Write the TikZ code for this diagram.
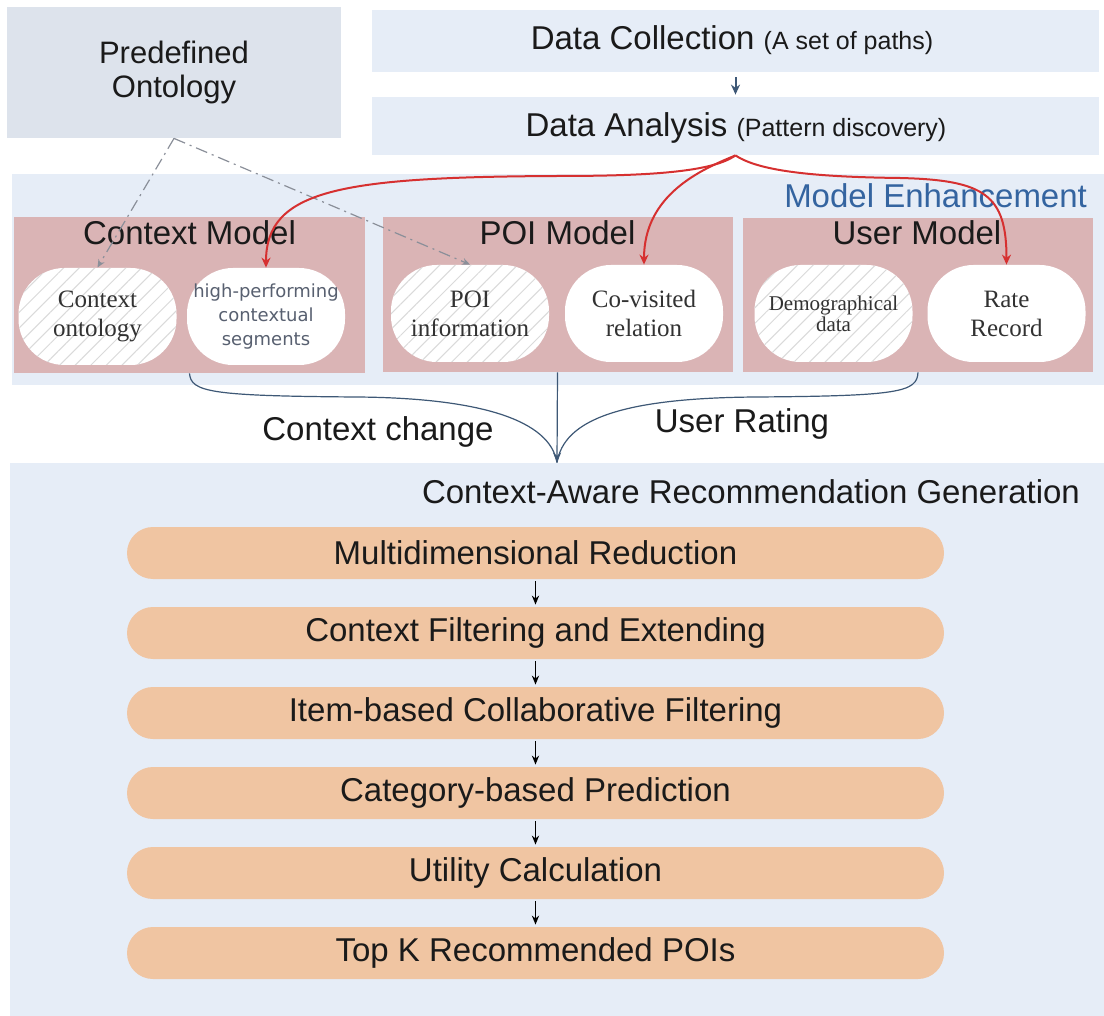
\documentclass[tikz,border=0pt]{standalone}
\usepackage{fontspec}
\setmainfont{Liberation Sans}
\newfontfamily\pillserif{Liberation Serif}
\newfontfamily\pillsans{DejaVu Sans}
\usetikzlibrary{arrows.meta,patterns.meta}
\definecolor{lightbg}{RGB}{230,237,247}
\definecolor{ontobg}{RGB}{221,227,236}
\definecolor{pinkbg}{RGB}{218,180,181}
\definecolor{orangebg}{RGB}{240,197,162}
\definecolor{hatchgray}{RGB}{218,218,218}
\definecolor{connblue}{RGB}{62,88,118}
\definecolor{redline}{RGB}{214,48,48}
\definecolor{enhblue}{RGB}{52,100,160}
\definecolor{dashgray}{RGB}{138,143,153}
\definecolor{txt}{RGB}{26,26,26}
\definecolor{pilltxt}{RGB}{50,50,50}
\definecolor{hptxt}{RGB}{88,96,112}
\begin{document}
\begin{tikzpicture}[x=0.5pt,y=-0.5pt,
  bigfont/.style={font=\fontsize{16.5}{20}\selectfont, text=txt},
  area/.style={rectangle, inner sep=0pt, draw=none},
  pill/.style={rectangle, rounded corners=23pt, minimum width=79pt, minimum height=48.5pt,
    inner sep=0pt, align=center, text=pilltxt, font=\pillserif\fontsize{12.5}{14.5}\selectfont},
  hatched/.style={pill, preaction={fill=white},
    pattern={Lines[angle=45,distance=5.5pt,line width=0.5pt]}, pattern color=hatchgray},
  blank/.style={pill, fill=white},
  stage/.style={rectangle, rounded corners=13pt, fill=orangebg, minimum width=408.5pt,
    minimum height=26pt, inner sep=0pt, font=\fontsize{16.5}{20}\selectfont, text=txt},
  stagearrow/.style={draw=black, line width=0.7pt, -{Stealth[length=4.5pt,width=3.6pt]}, shorten <=1pt, shorten >=1pt},
  redarr/.style={draw=redline, line width=1pt, -{Stealth[length=5pt,width=4.5pt]}},
  conn/.style={draw=connblue, line width=0.6pt},
  ontoline/.style={draw=dashgray, line width=0.6pt, dash pattern={on 6pt off 2.5pt on 1pt off 2.5pt},
    -{Stealth[length=4pt,width=3.5pt]}}
]
\useasboundingbox (0,0) rectangle (1104,1016);
\fill[white] (0,0) rectangle (1104,1016);

% top boxes
\node[area, fill=ontobg, minimum width=167pt, minimum height=65.5pt, align=center,
  font=\fontsize{15.5}{17}\selectfont, text=txt] (onto) at (174,72.5) {Predefined\\Ontology};
\node[area, fill=lightbg, minimum width=363.5pt, minimum height=31pt] (dc) at (735.5,41) {};
\node[area, fill=lightbg, minimum width=363.5pt, minimum height=29pt] (da) at (735.5,126) {};
\node[bigfont, anchor=base] (dct) at (732,50) {Data Collection {\fontsize{12.5}{14}\selectfont (A set of paths)}};
\node[bigfont, anchor=base] (dat) at (736,137) {Data Analysis {\fontsize{12.5}{14}\selectfont (Pattern discovery)}};
\draw[draw=connblue, line width=1pt, -{Stealth[length=5pt,width=4.5pt]}, shorten <=2.5pt, shorten >=1pt] (dc.south) -- (da.north);

% model enhancement area
\node[area, fill=lightbg, minimum width=546pt, minimum height=105.5pt] (me) at (558,279.5) {};
\node[anchor=base east, font=\fontsize{16.5}{20}\selectfont, text=enhblue] (met) at (1094,208) {Model Enhancement};
\node[area, fill=pinkbg, minimum width=175.5pt, minimum height=78pt] (cm) at (189.5,295) {};
\node[area, fill=pinkbg, minimum width=175pt, minimum height=77.5pt] (pm) at (557.5,294.5) {};
\node[area, fill=pinkbg, minimum width=175pt, minimum height=77pt] (um) at (918,295) {};
\node[bigfont, anchor=base] (cmt) at (189.5,245) {Context Model};
\node[bigfont, anchor=base] (pmt) at (557.5,245) {POI Model};
\node[bigfont, anchor=base] (umt) at (917,245) {User Model};

\node[hatched] (co) at (97.5,316.5) {Context\\ontology};
\node[blank, text=hptxt, font=\pillsans\fontsize{9}{12}\selectfont] (hp) at (266,316.5) {high-performing\\contextual\\segments};
\node[hatched] (pi) at (470,313.5) {POI\\information};
\node[blank] (cv) at (644,313.5) {Co-visited\\relation};
\node[hatched, font=\pillserif\fontsize{10.5}{9.5}\selectfont] (dd) at (833.5,313.5) {Demographical\\data};
\node[blank] (rr) at (1006.5,313.5) {Rate\\Record};

% ontology links
\draw[ontoline] (onto.south) -- (co.north);
\draw[ontoline] (onto.south) -- (pi.north);

% red links from data analysis
\draw[redarr] (da.south) .. controls (712,172) and (650,176) .. (557,176)
  .. controls (340,177) and (266,190) .. (hp.north);
\draw[redarr] (da.south) .. controls (700,170) and (644,195) .. (cv.north);
\draw[redarr] (da.south) .. controls (760,172) and (820,177) .. (900,178)
  .. controls (985,180) and (1006.5,195) .. (rr.north);

% generation area
\node[area, fill=lightbg, minimum width=547pt, minimum height=276.5pt] (gen) at (557,739.5) {};
\node[bigfont, anchor=base east] (gent) at (1087,503) {Context-Aware Recommendation Generation};

% merging connectors
\draw[conn] (cm.south) .. controls (191,392) and (210,396) .. (357,397)
  .. controls (480,398) and (550,420) .. (gen.north);
\draw[conn] (um.south) .. controls (917,392) and (900,396) .. (756,397)
  .. controls (620,398) and (564,420) .. (gen.north);
\draw[conn, -{Stealth[length=5pt,width=4pt]}] (pm.south) -- (gen.north);
\node[bigfont, anchor=base] (cc) at (378,440) {Context change};
\node[bigfont, anchor=base] (ur) at (742,433) {User Rating};

% stages
\node[stage] (s1) at (535.5,553) {Multidimensional Reduction};
\node[stage] (s2) at (535.5,633) {Context Filtering and Extending};
\node[stage] (s3) at (535.5,713) {Item-based Collaborative Filtering};
\node[stage] (s4) at (535.5,793) {Category-based Prediction};
\node[stage] (s5) at (535.5,873) {Utility Calculation};
\node[stage] (s6) at (535.5,953) {Top K Recommended POIs};
\draw[stagearrow] (s1.south) -- (s2.north);
\draw[stagearrow] (s2.south) -- (s3.north);
\draw[stagearrow] (s3.south) -- (s4.north);
\draw[stagearrow] (s4.south) -- (s5.north);
\draw[stagearrow] (s5.south) -- (s6.north);
\end{tikzpicture}
\end{document}
